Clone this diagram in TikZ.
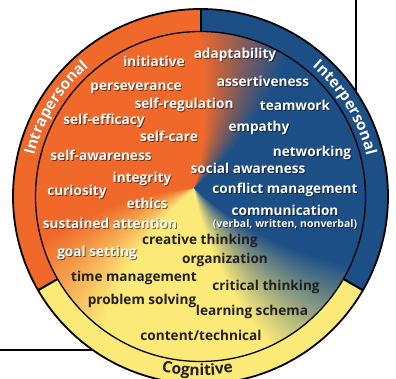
\documentclass[tikz,border=0pt]{standalone}
\usepackage{fontspec}
\setmainfont{Open Sans}
\usetikzlibrary{calc,decorations.text}
\definecolor{ringO}{RGB}{240,105,42}
\definecolor{ringB}{RGB}{29,79,135}
\definecolor{ringY}{RGB}{252,234,120}
\definecolor{darktxt}{RGB}{35,31,32}
\pgfdeclarefunctionalshading{swirl}{\pgfpoint{-50bp}{-50bp}}{\pgfpoint{50bp}{50bp}}{}{
 exch 1.06 add 0.0001 add exch 1.36 sub
 2 copy dup mul exch dup mul add sqrt
 3 1 roll exch atan
 exch 0.6 mul sub
 dup 0 lt {360 add} if
 dup 40 lt {pop 0.114 0.310 0.529}
 {dup 75 lt {40 sub 35 div dup 0.827 mul 0.114 add exch dup 0.102 mul 0.310 add exch -0.364 mul 0.529 add}
 {dup 185 lt {pop 0.941 0.412 0.165}
 {dup 222 lt {185 sub 37 div dup 0.047 mul 0.941 add exch dup 0.506 mul 0.412 add exch 0.306 mul 0.165 add}
 {dup 280 lt {pop 0.988 0.918 0.471}
 {dup 318 lt {280 sub 38 div dup -0.874 mul 0.988 add exch dup -0.608 mul 0.918 add exch 0.058 mul 0.471 add}
 {pop 0.114 0.310 0.529} ifelse} ifelse} ifelse} ifelse} ifelse} ifelse
}
\newcommand\ringfont{\bfseries\fontsize{15.5}{16}\selectfont}
\tikzset{
 lbl/.style={font=\bfseries\fontsize{13.6}{14}\selectfont, inner sep=0pt, text height=9.5pt, text depth=3pt},
 wtxt/.style={lbl, text=white},
 dtxt/.style={lbl, text=darktxt},
 shd/.style={lbl, text=black, opacity=0.55, xshift=0.9pt, yshift=-0.9pt},
 smalltxt/.style={font=\bfseries\fontsize{10.5}{11}\selectfont},
 frame/.style={line width=2pt, black},
 divider/.style={line width=2pt, black},
 ringshd/.style={xshift=0.8pt, yshift=-0.8pt}
}
\newcommand\wlab[4][]{\node[shd,#1] (#2s) at (#3) {#4}; \node[wtxt,#1] (#2) at (#3) {#4};}
\newcommand\dlab[3]{\node[dtxt] (#1) at (#2) {#3};}
\begin{document}
\begin{tikzpicture}[x=1pt,y=1pt]
\useasboundingbox (0,0) rectangle (396,378);
\clip (0,0) rectangle (396,378);
\coordinate (C) at (200.5,181.5);
% frame lines behind the circle
\coordinate (vt) at (356,378);
\coordinate (vb) at (356,250);
\coordinate (hl) at (0,28);
\coordinate (hr) at (140,28);
\draw[frame] (vt) -- (vb);
\draw[frame] (hl) -- (hr);
% ring sectors
\fill[ringO] (C) -- ++(90:187.5pt) arc[start angle=90, end angle=210, radius=187.5pt] -- cycle;
\fill[ringB] (C) -- ++(-30:187.5pt) arc[start angle=-30, end angle=90, radius=187.5pt] -- cycle;
\fill[ringY] (C) -- ++(210:187.5pt) arc[start angle=210, end angle=330, radius=187.5pt] -- cycle;
% inner swirl
\shade[shading=swirl] (C) circle[radius=165pt];
\draw[line width=1.3pt] (C) circle[radius=165pt];
\draw[line width=1.8pt] (C) circle[radius=187.5pt];
% dividers
\path (C) ++(90:165pt) coordinate (d1a) (C) ++(90:188pt) coordinate (d1b);
\path (C) ++(210:165pt) coordinate (d2a) (C) ++(210:188pt) coordinate (d2b);
\path (C) ++(-30:165pt) coordinate (d3a) (C) ++(-30:188pt) coordinate (d3b);
\draw[divider] (d1a) -- (d1b);
\draw[divider] (d2a) -- (d2b);
\draw[divider] (d3a) -- (d3b);
% ring labels (shadow, then text)
\path[ringshd, decorate, decoration={text along path, text align=center, text color=black!55!ringO, text={|\ringfont|Intrapersonal}}]
 (C) ++(185:171pt) arc[start angle=185, end angle=112, radius=171pt];
\path[decorate, decoration={text along path, text align=center, text color=white, text={|\ringfont|Intrapersonal}}]
 (C) ++(185:171pt) arc[start angle=185, end angle=112, radius=171pt];
\path[ringshd, decorate, decoration={text along path, text align=center, text color=black!55!ringB, text={|\ringfont|Interpersonal}}]
 (C) ++(70:171pt) arc[start angle=70, end angle=-7, radius=171pt];
\path[decorate, decoration={text along path, text align=center, text color=white, text={|\ringfont|Interpersonal}}]
 (C) ++(70:171pt) arc[start angle=70, end angle=-7, radius=171pt];
\path[decorate, decoration={text along path, text align=center, text color=darktxt, text={|\ringfont|Cognitive}}]
 (C) ++(229:179pt) arc[start angle=229, end angle=309, radius=179pt];
% white labels
\wlab{initiative}{154,315}{initiative}
\wlab{adapt}{235,323}{adaptability}
\wlab{persev}{136,291}{perseverance}
\wlab{assert}{263,295}{assertiveness}
\wlab{selfreg}{184,273}{self-regulation}
\wlab{team}{295,271}{teamwork}
\wlab{selfeff}{104,257}{self-efficacy}
\wlab{empathy}{259,250}{empathy}
\wlab{selfcare}{169,240}{self-care}
\wlab{selfaw}{101,221}{self-awareness}
\wlab{network}{312,225}{networking}
\wlab{socaw}{248,208}{social awareness}
\wlab{integrity}{142,199}{integrity}
\wlab{curiosity}{77,186}{curiosity}
\wlab{conflict}{285,188}{conflict management}
\wlab{ethics}{147,173}{ethics}
\wlab{comm}{285,166}{communication}
\wlab[smalltxt]{verbal}{285,154}{(verbal, written, nonverbal)}
\wlab{sustained}{110,153}{sustained attention}
\wlab{goal}{97,125}{goal setting}
% dark labels
\dlab{creative}{200,137}{creative thinking}
\dlab{organ}{225,118}{organization}
\dlab{timem}{134,100}{time management}
\dlab{critical}{266,91}{critical thinking}
\dlab{problem}{142,77}{problem solving}
\dlab{learning}{252,66}{learning schema}
\dlab{content}{201,41}{content/technical}
\end{tikzpicture}
\end{document}
